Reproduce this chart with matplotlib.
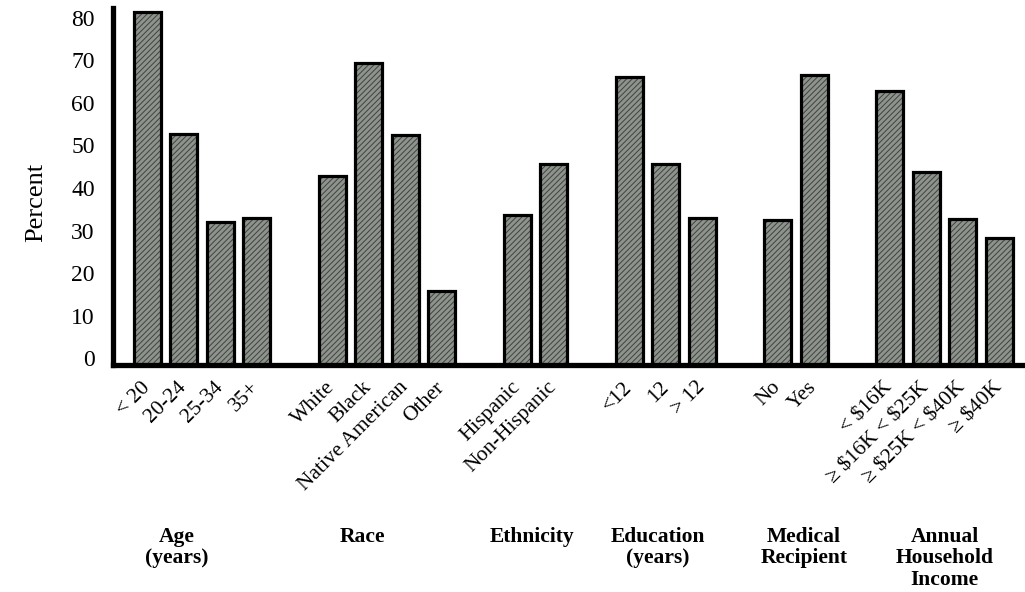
import numpy as np
import matplotlib.pyplot as plt
import matplotlib.transforms as mtransforms

# values (percent)
age_labels = ["< 20", "20-24", "25-34", "35+"]
age_values = [82.9, 54.2, 33.6, 34.5]
race_labels = ["White", "Black", "Native American", "Other"]
race_values = [44.4, 70.9, 54.0, 17.4]
eth_labels = ["Hispanic", "Non-Hispanic"]
eth_values = [35.2, 47.2]
edu_labels = ["<12", "12", "> 12"]
edu_values = [67.6, 47.2, 34.5]
med_labels = ["No", "Yes"]
med_values = [34.0, 68.1]
inc_labels = ["< \\$16K", "\u2265 \\$16K < \\$25K", "\u2265 \\$25K < \\$40K", "\u2265 \\$40K"]
inc_values = [64.3, 45.3, 34.3, 29.8]

group_names = ["Age\n(years)", "Race", "Ethnicity", "Education\n(years)",
               "Medical\nRecipient", "Annual\nHousehold\nIncome"]
groups = [
    (age_labels, age_values),
    (race_labels, race_values),
    (eth_labels, eth_values),
    (edu_labels, edu_values),
    (med_labels, med_values),
    (inc_labels, inc_values),
]

# layout: gap between groups (in bar slots) and group-title nudges
GAP = 1.07
name_nudge = [-0.68, -0.68, -0.1, -0.22, 0.22, 0.0]

plt.rcParams["font.family"] = ["Liberation Serif", "DejaVu Serif"]
plt.rcParams["hatch.linewidth"] = 0.7

fig = plt.figure(figsize=(10.25, 5.92), dpi=100)
axis = fig.add_axes([0.110, 0.383, 0.887, 0.603])

xpos, labels, values, centers = [], [], [], []
slot = 0.0
for labs, vals in groups:
    start = slot
    for lab, val in zip(labs, vals):
        xpos.append(slot)
        labels.append(lab)
        values.append(val)
        slot += 1
    centers.append((start + slot - 1) / 2)
    slot += GAP

width = 0.74
axis.bar(xpos, values, width=width, color="#8e938e", hatch="//////",
         edgecolor="#3e433e", linewidth=0, zorder=2)
axis.bar(xpos, values, width=width, facecolor="none", edgecolor="black",
         linewidth=2.3, zorder=3)

axis.set_xlim(-0.94, 23.97)
axis.set_ylim(0, 83.8)
axis.spines["top"].set_visible(False)
axis.spines["right"].set_visible(False)
axis.spines["left"].set_linewidth(3.8)
axis.spines["bottom"].set_linewidth(3.8)

axis.set_yticks(np.arange(0, 81, 10))
axis.tick_params(axis="y", length=0, pad=13, labelsize=17)
shift = mtransforms.ScaledTranslation(0, 5 / 72, fig.dpi_scale_trans)
for lab in axis.get_yticklabels():
    lab.set_transform(lab.get_transform() + shift)

axis.set_xticks(xpos)
axis.set_xticklabels(labels, rotation=45, ha="right", va="center",
                     rotation_mode="anchor", fontsize=15.5)
axis.tick_params(axis="x", length=0, pad=14)

axis.set_ylabel("Percent", fontsize=19)
axis.yaxis.set_label_coords(-0.072, 0.457)

for cx, dx, name in zip(centers, name_nudge, group_names):
    axis.text(cx + dx, -0.452, name, transform=axis.get_xaxis_transform(),
              ha="center", va="top", fontsize=15.5, fontweight="bold",
              linespacing=1.12)

fig.savefig("out.png", dpi=100)
